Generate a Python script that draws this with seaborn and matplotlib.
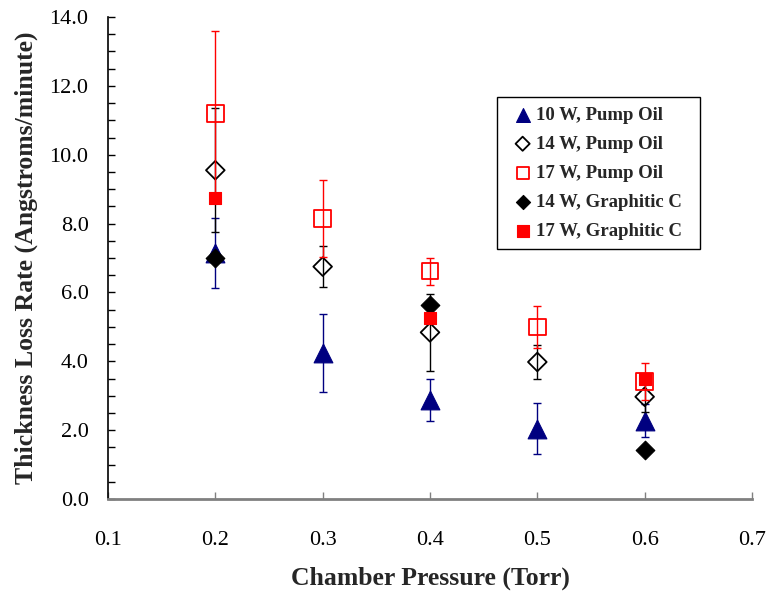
import numpy as np
import pandas as pd
import matplotlib
matplotlib.use("Agg")
import matplotlib.pyplot as plt
import seaborn as sns
from matplotlib.patches import Rectangle
from matplotlib.ticker import MultipleLocator, FormatStrFormatter

# Chamber pressure (Torr)
pressure = [0.2, 0.3, 0.4, 0.5, 0.6]
pressure_graphitic = [0.2, 0.4, 0.6]

# Thickness loss rate (Angstroms/minute) and standard deviations
rate_10w_oil = [7.15, 4.24, 2.88, 2.04, 2.28]
err_10w_oil = [1.02, 1.13, 0.61, 0.74, 0.47]

rate_14w_oil = [9.55, 6.75, 4.84, 3.98, 2.97]
err_14w_oil = [1.80, 0.60, 1.12, 0.50, 0.45]

rate_17w_oil = [11.20, 8.15, 6.62, 5.00, 3.42]
err_17w_oil = [2.40, 1.13, 0.39, 0.60, 0.53]

rate_14w_graphitic = [7.00, 5.63, 1.42]
rate_17w_graphitic = [8.75, 5.27, 3.49]

labels = ["10 W, Pump Oil", "14 W, Pump Oil", "17 W, Pump Oil",
          "14 W, Graphitic C", "17 W, Graphitic C"]

sns.set_theme(style="ticks")
plt.rcParams["font.family"] = ["Liberation Serif", "DejaVu Serif"]

fig = plt.figure(figsize=(7.72, 5.93), dpi=100)
ax = fig.add_axes([0.1399, 0.1585, 0.8342, 0.8128])

series = [
    # x, y, err, label, marker, plot size, legend size (pt), colour, filled
    (pressure, rate_10w_oil, err_10w_oil, labels[0], "^", 13.5, 10.0, "#000080", True),
    (pressure, rate_14w_oil, err_14w_oil, labels[1], "D", 9.5, 7.2, "black", False),
    (pressure, rate_17w_oil, err_17w_oil, labels[2], "s", 12.0, 8.7, "#FF0000", False),
    (pressure_graphitic, rate_14w_graphitic, None, labels[3], "D", 9.5, 7.2, "black", True),
    (pressure_graphitic, rate_17w_graphitic, None, labels[4], "s", 9.0, 9.0, "#FF0000", True),
]

for i, (xs, ys, errs, lab, mk, ms, lms, col, filled) in enumerate(series):
    df = pd.DataFrame({"pressure": xs, "rate": ys})
    if errs is not None:
        ax.errorbar(xs, ys, yerr=errs, fmt="none", ecolor=col,
                    elinewidth=1.0, capsize=3, capthick=1.0, zorder=2 + i)
    if filled:
        sns.scatterplot(data=df, x="pressure", y="rate", marker=mk,
                        s=ms ** 2, color=col, edgecolor=col, linewidth=0.8,
                        label=lab, ax=ax, zorder=3 + i)
    else:
        sns.scatterplot(data=df, x="pressure", y="rate", marker=mk,
                        s=ms ** 2, facecolor="none", edgecolor=col,
                        linewidth=1.3, label=lab, ax=ax, zorder=3 + i)

ax.set_xlim(0.1, 0.7)
ax.set_ylim(0.0, 14.0)
ax.xaxis.set_major_locator(MultipleLocator(0.1))
ax.yaxis.set_major_locator(MultipleLocator(2.0))
ax.yaxis.set_minor_locator(MultipleLocator(0.5))
ax.xaxis.set_major_formatter(FormatStrFormatter("%.1f"))
ax.yaxis.set_major_formatter(FormatStrFormatter("%.1f"))

ax.tick_params(axis="both", which="both", direction="in", labelsize=16,
               colors="black")
ax.tick_params(axis="y", which="major", length=5, width=1.0, pad=14)
ax.tick_params(axis="y", which="minor", length=5, width=1.0)
ax.tick_params(axis="x", which="major", length=5, width=1.0, color="#808080", pad=23)

for side in ["top", "right"]:
    ax.spines[side].set_visible(False)
ax.spines["left"].set_color("black")
ax.spines["left"].set_linewidth(1.2)
ax.spines["bottom"].set_color("#808080")
ax.spines["bottom"].set_linewidth(2.0)

ax.set_xlabel("Chamber Pressure (Torr)", fontsize=18.5, fontweight="bold", labelpad=12)
ax.set_ylabel("Thickness Loss Rate (Angstroms/minute)", fontsize=18.5,
              fontweight="bold", labelpad=8)

leg = ax.legend(loc="upper left", bbox_to_anchor=(0.6118, 0.834),
                frameon=False, prop={"weight": "bold", "size": 13.5},
                handletextpad=0.1, labelspacing=0.64, borderpad=0.5,
                borderaxespad=0, handlelength=1.2)
leg.set_zorder(10)
for handle, s in zip(leg.legend_handles, [row[6] for row in series]):
    handle.set_sizes([s ** 2])

# Legend frame with a little more room on the left and right of the entries
fig.canvas.draw()
bb = leg.get_window_extent()
to_fig = fig.transFigure.inverted()
(fx0, fy0) = to_fig.transform((bb.x0 - 5, bb.y0))
(fx1, fy1) = to_fig.transform((bb.x1 + 9, bb.y1))
frame = Rectangle((fx0, fy0), fx1 - fx0, fy1 - fy0, transform=fig.transFigure,
                  facecolor="white", edgecolor="black", linewidth=1.0,
                  zorder=9, clip_on=False)
ax.add_patch(frame)

fig.savefig("out.png", dpi=100)
